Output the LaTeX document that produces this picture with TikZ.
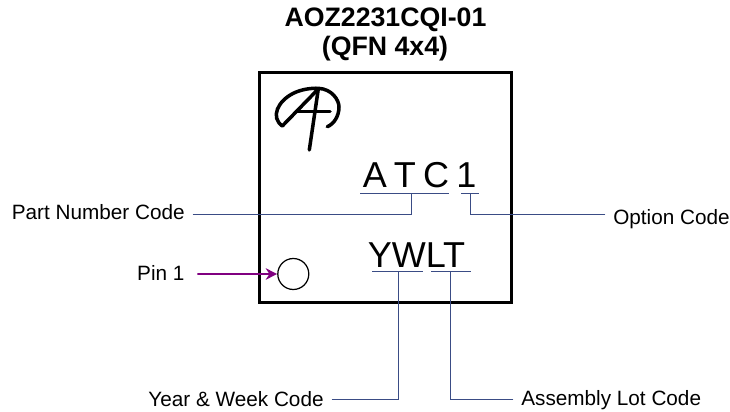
\documentclass[tikz,border=0pt]{standalone}
\usepackage{fontspec}
\setmainfont{Liberation Sans}
\usetikzlibrary{arrows.meta}
\definecolor{leadblue}{HTML}{3A4C85}
\definecolor{pinpurple}{HTML}{800080}
\tikzset{
    titleline/.style={font=\fontsize{15.2}{18}\selectfont\bfseries, inner sep=0pt, anchor=base},
    codelabel/.style={font=\fontsize{11.8}{14}\selectfont, text height=8.5pt, text depth=2.5pt, inner xsep=4.3pt},
    marking/.style={font=\fontsize{20.5}{24}\selectfont, inner sep=0pt, anchor=base},
    leader/.style={leadblue, line width=0.55pt},
    logostroke/.style={line width=2pt, line cap=round, line join=round}
}

\begin{document}
\begin{tikzpicture}[x=0.02cm, y=-0.02cm]
    \useasboundingbox (0,0) rectangle (730,412);
    % Nodes
    \node[titleline] (partname) at (385.5,26.5) {AOZ2231CQI-01};
    \node[titleline] (package) at (385,55.5) {(QFN 4x4)};
    \node[draw, line width=1.6pt, minimum width=251.5*0.02cm, minimum height=230.5*0.02cm, inner sep=0pt] (chip) at (385.5,187.5) {};
    \node[draw, circle, line width=0.7pt, minimum size=0.62cm, inner sep=0pt] (pinmark) at (293.3,274) {};
    \node[marking] (atc) at (406,187) {\spaceskip=0.2em A T C};
    \node[marking] (optdigit) at (466.5,187) {1};
    \node[marking] (ywlt) at (416.5,267) {YWLT};
    \node[codelabel] (partcode) at (98.3,214.7) {Part Number Code};
    \node[codelabel] (optcode) at (671.5,219) {Option Code};
    \node[codelabel] (pinlabel) at (160.8,275.7) {Pin 1};
    \node[codelabel] (yearcode) at (236,401.4) {Year \& Week Code};
    \node[codelabel] (lotcode) at (611.2,400.4) {Assembly Lot Code};
    % Underlines
    \coordinate (atcleft) at (360,193);
    \coordinate (atcright) at (449,193);
    \coordinate (atcstem) at (411,193);
    \coordinate (optleft) at (461,193);
    \coordinate (optright) at (479,193);
    \coordinate (optstem) at (470,193);
    \coordinate (weekleft) at (372,271);
    \coordinate (weekright) at (423,271);
    \coordinate (weekstem) at (398,271);
    \coordinate (lotleft) at (431,271);
    \coordinate (lotright) at (471,271);
    \coordinate (lotstem) at (450,271);
    \draw[leader] (atcleft) -- (atcright);
    \draw[leader] (optleft) -- (optright);
    \draw[leader] (weekleft) -- (weekright);
    \draw[leader] (lotleft) -- (lotright);
    % Leaders
    \draw[leader] ([yshift=0.014cm]partcode.east) -| (atcstem);
    \draw[leader] ([yshift=0.1cm]optcode.west) -| (optstem);
    \draw[leader] ([yshift=0.048cm]yearcode.east) -| (weekstem);
    \draw[leader] ([yshift=0.028cm]lotcode.west) -| (lotstem);
    % Pin arrow
    \draw[-{Stealth[length=6.5pt,width=6.5pt]}, pinpurple, line width=1.1pt, shorten <=0.1cm] ([yshift=0.034cm]pinlabel.east) -- (pinmark.west);
    % Logo
    \draw[logostroke] (318.3,89) -- (282.3,126) .. controls (270,117) and (278,101) .. (293.3,93.3) .. controls (302,89) and (312,88) .. (318.3,88.3) .. controls (332,89) and (339,100) .. (339,107) .. controls (339,116) and (334,124) .. (327.3,126.7);
    \draw[logostroke] (318.3,89) -- (309.3,150);
    \draw[logostroke] (296.7,111.7) -- (330,111.7);
\end{tikzpicture}
\end{document}
